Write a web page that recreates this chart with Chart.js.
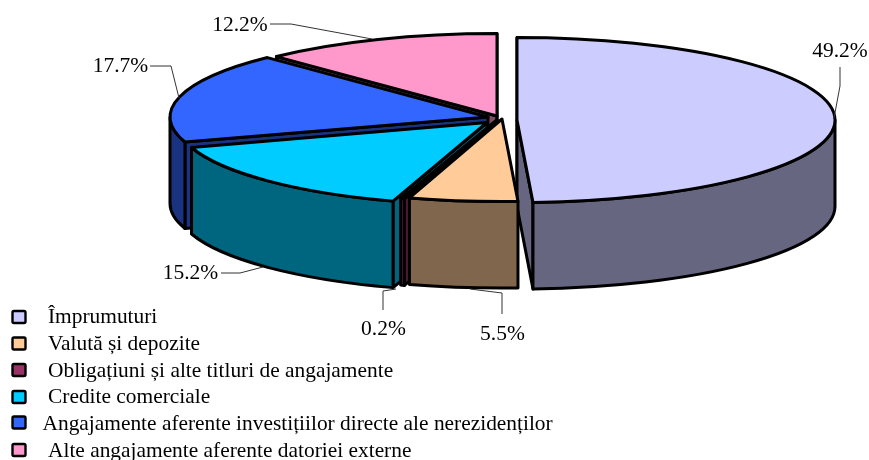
<!DOCTYPE html>
<html><head><meta charset="utf-8">
<style>html,body{margin:0;padding:0;background:#fff}canvas{display:block}</style>
<script src="https://cdn.jsdelivr.net/npm/chart.js@4/dist/chart.umd.min.js"></script>
</head><body>
<canvas id="c" width="869" height="460"></canvas>
<script>
const categories = ['Împrumuturi','Valută și depozite','Obligațiuni și alte titluri de angajamente','Credite comerciale','Angajamente aferente investițiilor directe ale nerezidenților','Alte angajamente aferente datoriei externe'];
const shares = [49.2,5.5,0.2,15.2,17.7,12.2];
const topColors = ['#CCCCFF','#FFCC99','#993366','#00CCFF','#3366FF','#FF99CC'];
const wallColors = ['#666680','#80664D','#4D1A33','#006680','#1A3380','#804D66'];

const PIE = {cx:503, cy:118.5, rx:318, ry:82.5, depth:86.5, line:3};
// Explosion of each slice relative to the pie centre, and its radius factor
const explode = [[14,1.5,1],[-1,0.5,1],[-6,1.5,1],[-16,4,0.975],[-15,-1.5,1],[-6,-2.5,1]];
// Back-to-front paint order
const paintOrder = [5,4,0,3,2,1];
const labelLayout = [
 {x:840,y:57,pts:[[840,67],[840,86],[834,118]]},
 {x:502.5,y:340,pts:[[502,314],[502,293],[470,289]]},
 {x:383.5,y:335,pts:[[383,310],[383,291],[396,289]]},
 {x:190.5,y:279,pts:[[221,273],[240,273],[263,267]]},
 {x:120.5,y:72,pts:[[150,66],[171,66],[179,98]]},
 {x:240,y:31,pts:[[270,24],[291,24],[372,39]]}
];
const legendRows = [
 {box:311,x:48,y:323},{box:337.5,x:48,y:350},{box:364,x:48,y:377},
 {box:391,x:48,y:403},{box:416.5,x:42.5,y:430},{box:444,x:48,y:457}
];
const SERIF = '"Liberation Serif","Times New Roman",serif';

const pie3d = {
  id:'pie3d',
  beforeDatasetDraw(chart,args){
    const ctx = chart.ctx, meta = args.meta;
    paintOrder.forEach(i=>{
      const arc = meta.data[i];
      const ax = PIE.cx+explode[i][0], ay = PIE.cy+explode[i][1];
      const rx = PIE.rx*explode[i][2], ry = PIE.ry;
      const s = arc.startAngle, e = arc.endAngle;
      const P = t=>[ax+rx*Math.cos(t), ay+ry*Math.sin(t)];
      ctx.save();
      ctx.lineWidth = PIE.line; ctx.lineJoin='round'; ctx.strokeStyle='#000';
      ctx.fillStyle = wallColors[i];
      const cut = t=>{
        const p=P(t);
        ctx.beginPath(); ctx.moveTo(ax,ay); ctx.lineTo(p[0],p[1]);
        ctx.lineTo(p[0],p[1]+PIE.depth); ctx.lineTo(ax,ay+PIE.depth); ctx.closePath();
        ctx.fill(); ctx.stroke();
      };
      // clockwise angle from the top of the pie
      const sinFromTop = t=>Math.sin(t+Math.PI/2);
      if (sinFromTop(s) <= 0.001) cut(s);
      if (sinFromTop(e) >= -0.001) cut(e);
      // outer wall: only the front half of the rim
      const a0 = Math.max(s,0), a1 = Math.min(e,Math.PI);
      if (a1>a0){
        ctx.beginPath();
        ctx.ellipse(ax,ay,rx,ry,0,a0,a1,false);
        ctx.ellipse(ax,ay+PIE.depth,rx,ry,0,a1,a0,true);
        ctx.closePath(); ctx.fill(); ctx.stroke();
      }
      // top face: the library's own arc element, squeezed into an ellipse
      const k = 1/arc.outerRadius;
      ctx.save();
      ctx.translate(ax,ay);
      ctx.scale(rx*k,ry*k);
      ctx.translate(-arc.x,-arc.y);
      arc.draw(ctx);
      ctx.restore();
      ctx.beginPath();
      ctx.moveTo(ax,ay);
      ctx.ellipse(ax,ay,rx,ry,0,s,e,false);
      ctx.closePath(); ctx.stroke();
      ctx.restore();
    });
    return false;
  },
  afterDraw(chart){
    const ctx = chart.ctx;
    ctx.save();
    // leaders and value labels
    ctx.strokeStyle='#333'; ctx.lineWidth=1;
    ctx.fillStyle='#000'; ctx.textBaseline='alphabetic';
    ctx.font='21.5px '+SERIF; ctx.textAlign='center';
    labelLayout.forEach((l,i)=>{
      ctx.beginPath();
      l.pts.forEach((p,j)=>j?ctx.lineTo(p[0],p[1]):ctx.moveTo(p[0],p[1]));
      ctx.stroke();
      ctx.fillText(shares[i].toFixed(1)+'%',l.x,l.y);
    });
    // legend
    ctx.textAlign='left'; ctx.font='21.4px '+SERIF;
    legendRows.forEach((r,i)=>{
      ctx.fillStyle=topColors[i]; ctx.strokeStyle='#000'; ctx.lineWidth=2.4;
      ctx.beginPath(); ctx.roundRect(12.5,r.box,13,12,1.5); ctx.fill(); ctx.stroke();
      ctx.fillStyle='#000';
      ctx.fillText(categories[i],r.x,r.y);
    });
    ctx.restore();
  }
};

new Chart(document.getElementById('c'),{
  type:'pie',
  data:{labels:categories,datasets:[{data:shares,backgroundColor:topColors,borderWidth:0,offset:0}]},
  options:{
    responsive:false,animation:false,events:[],
    layout:{padding:0},
    plugins:{legend:{display:false},tooltip:{enabled:false},title:{display:false}}
  },
  plugins:[pie3d]
});
</script>
</body></html>
